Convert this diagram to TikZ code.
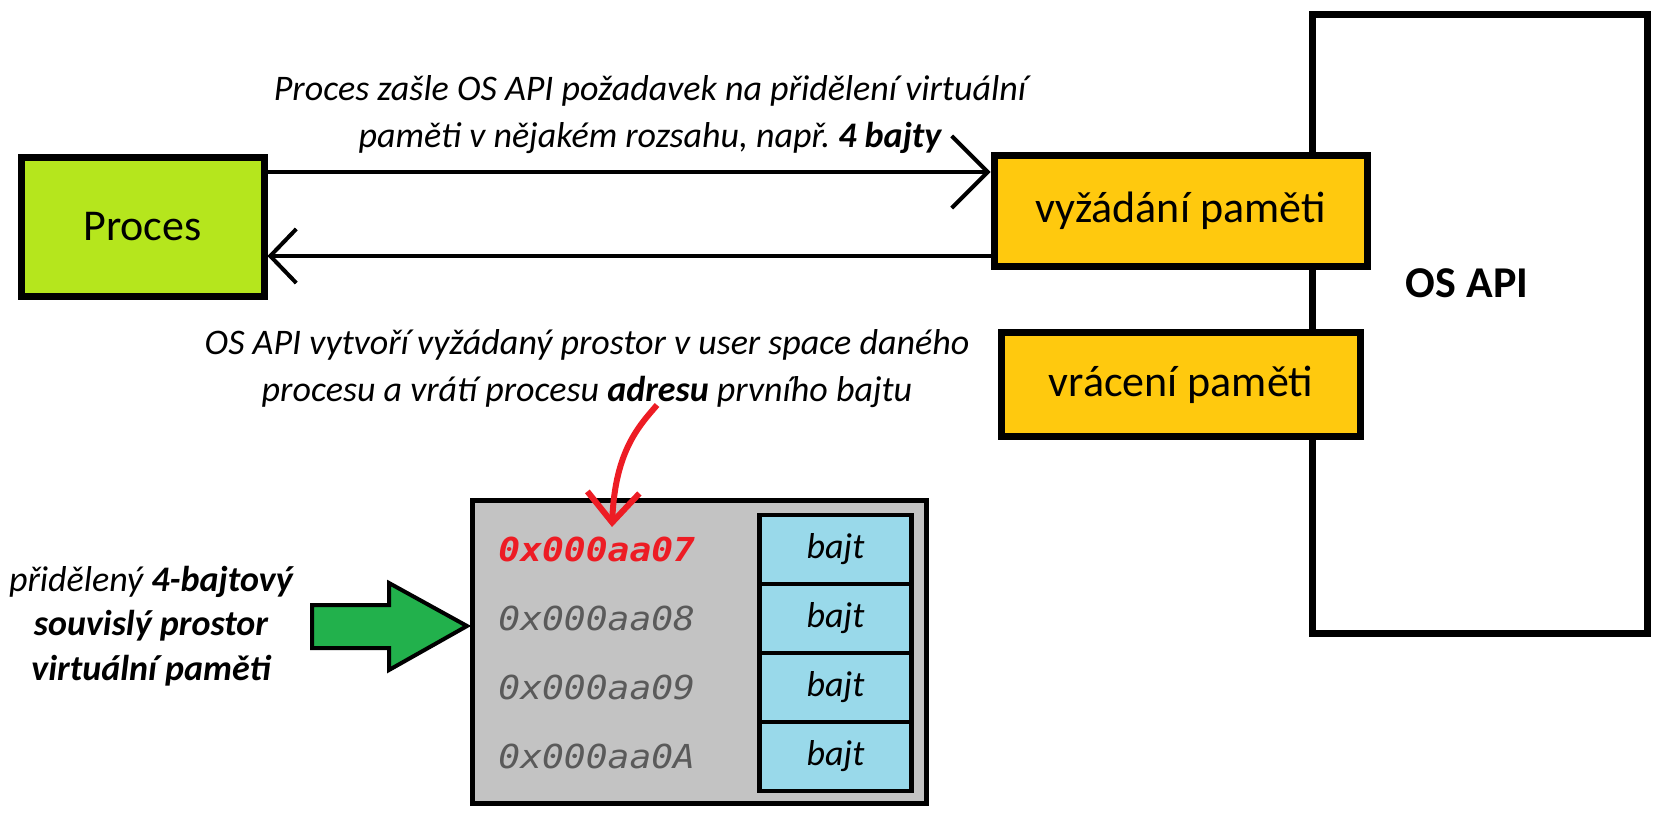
\documentclass[tikz,border=0pt]{standalone}
\usepackage{fontspec}
\setmainfont{Carlito}
\newfontfamily\addrfont[FakeStretch=1.1]{DejaVu Sans Mono}
\usetikzlibrary{arrows.meta}
\frenchspacing

\definecolor{procgreen}{HTML}{B5E61D}
\definecolor{apiyellow}{HTML}{FFC90E}
\definecolor{spacegray}{HTML}{C3C3C3}
\definecolor{bytecyan}{HTML}{99D9EA}
\definecolor{arrowgreen}{HTML}{22B14C}
\definecolor{adrred}{HTML}{ED1C24}
\definecolor{adrgray}{HTML}{5A5A5A}

\begin{document}
\begin{tikzpicture}[x=0.5pt,y=-0.5pt,
    bigbox/.style={draw=black, line width=3.5pt, inner sep=0pt, font=\fontsize{22}{26}\selectfont},
    bytebox/.style={draw=black, fill=bytecyan, line width=2.25pt, inner sep=0pt,
        minimum width=76pt, minimum height=34.5pt, font=\fontsize{18}{22}\selectfont\itshape},
    adrnode/.style={anchor=west, inner sep=0pt, text=adrgray, font=\fontsize{16.5}{20}\selectfont\addrfont\itshape},
    note/.style={align=center, inner sep=0pt, font=\fontsize{18}{23.5}\selectfont\itshape},
    call/.style={line width=2pt, -{Straight Barb[length=18pt,width=36pt]}},
    answer/.style={line width=2pt, -{Straight Barb[length=13pt,width=27pt]}}
    ]
    \useasboundingbox (0,0) rectangle (1657,813);

    \node [bigbox, minimum width=167.5pt, minimum height=309pt] (osapi) at (1479.5,324) {};
    \node [font=\fontsize{22}{26}\selectfont\bfseries] (osapilabel) at (1467,283) {OS API};

    \node [bigbox, fill=procgreen, minimum width=121.5pt, minimum height=69.5pt] (proces) at (142.5,226.5) {Proces};
    \node [bigbox, fill=apiyellow, minimum width=186.5pt, minimum height=55.5pt] (vyzadani) at (1180.5,210.5) {vyžádání paměti};
    \node [bigbox, fill=apiyellow, minimum width=179.5pt, minimum height=52pt] (vraceni) at (1181,384.5) {vrácení paměti};

    \node [note] (reqtext) at (650,115) {Proces zašle OS API požadavek na přidělení virtuální\\paměti v nějakém rozsahu, např. \textbf{4 bajty}};
    \node [note] (adrtext) at (587,369) {OS API vytvoří vyžádaný prostor v user space daného\\procesu a vrátí procesu \textbf{adresu} prvního bajtu};

    \draw [call] (proces.east |- 0,172) -- (vyzadani.west |- 0,172);
    \draw [answer] (vyzadani.west |- 0,256) -- (proces.east |- 0,256);

    % pridelena pamet
    \node [draw=black, fill=spacegray, line width=2.5pt, minimum width=227pt, minimum height=151.5pt] (space) at (699.5,652) {};
    \node [bytebox] (b1) at (835.5,549.5) {bajt};
    \node [bytebox] (b2) at (835.5,618.5) {bajt};
    \node [bytebox] (b3) at (835.5,687.5) {bajt};
    \node [bytebox] (b4) at (835.5,756.5) {bajt};
    \node [adrnode, text=adrred, font=\fontsize{16.5}{20}\selectfont\addrfont\itshape\bfseries] (a1) at (498,549.5) {0x000aa07};
    \node [adrnode] (a2) at (498,618.5) {0x000aa08};
    \node [adrnode] (a3) at (498,687.5) {0x000aa09};
    \node [adrnode] (a4) at (498,756.5) {0x000aa0A};

    \coordinate (redfrom) at (657,405);
    \coordinate (redto) at (612,527);
    \draw [adrred, line width=3pt, -{Straight Barb[length=15pt,width=26pt]}] (redfrom) .. controls (640,425) and (615,450) .. (redto);

    \node [note, font=\fontsize{18}{22.3}\selectfont\itshape] (spacetext) at (151,626) {přidělený \textbf{4-bajtový}\\\textbf{souvislý prostor}\\\textbf{virtuální paměti}};
    \draw [fill=arrowgreen, line width=2pt, line join=miter] (312,605) -- (389,605) -- (389,583) -- (467,626) -- (389,670) -- (389,648) -- (312,648) -- cycle;
\end{tikzpicture}
\end{document}
